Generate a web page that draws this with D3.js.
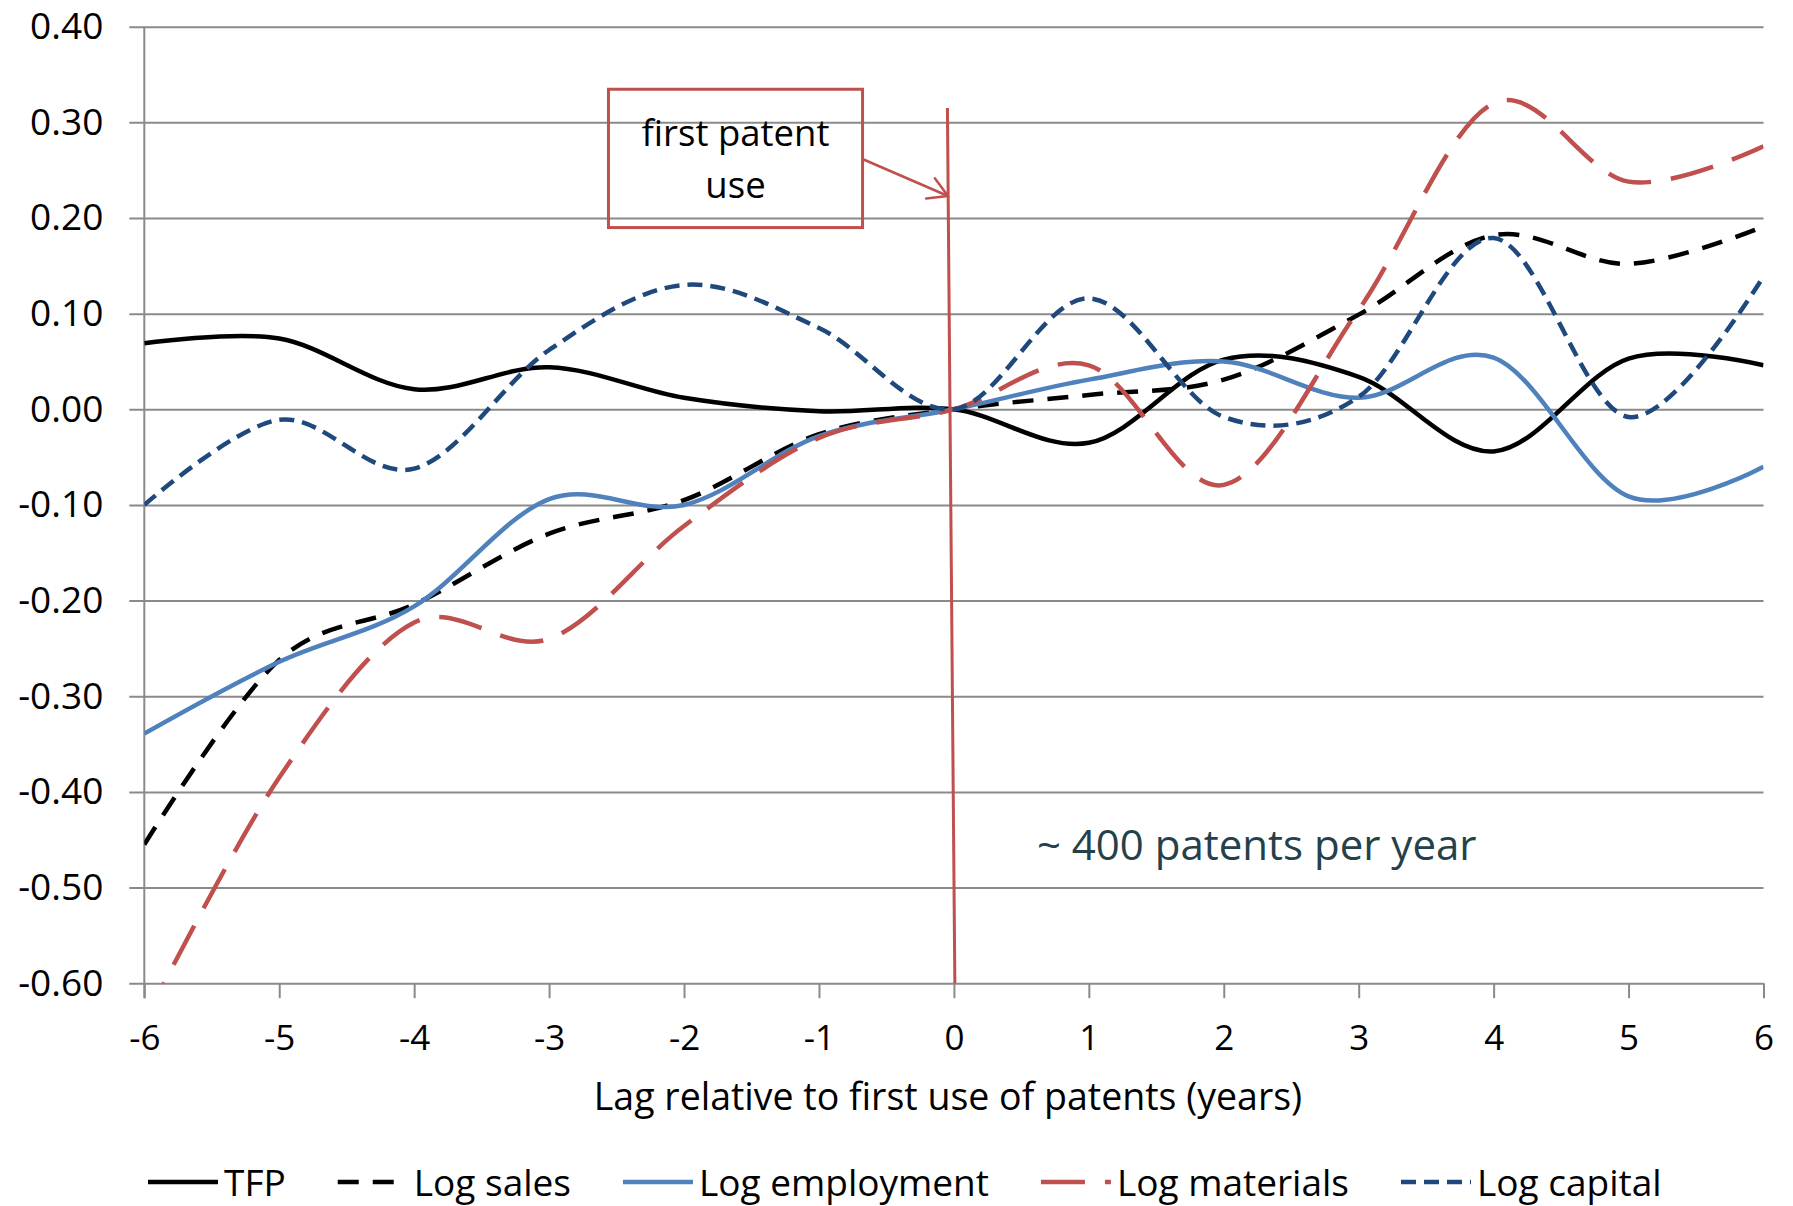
<!DOCTYPE html>
<html>
<head>
<meta charset="utf-8">
<script src="https://cdn.jsdelivr.net/npm/d3@7"></script>
<style>
  html, body { margin: 0; padding: 0; background: #fff; }
  svg text { font-family: 'Open Sans', 'Noto Sans', sans-serif; }
</style>
</head>
<body>
<svg id="chart" width="1793" height="1206"></svg>
<script>
// Event-study style chart: outcomes relative to first use of patents.
// Values (Excel smoothed lines).

var lags = [-6, -5, -4, -3, -2, -1, 0, 1, 2, 3, 4, 5, 6];

var tfp           = [0.069, 0.074, 0.021, 0.044, 0.012, -0.002, 0, -0.035, 0.052, 0.034, -0.044, 0.053, 0.046];
var logSales      = [-0.455, -0.262, -0.204, -0.130, -0.095, -0.026, 0, 0.015, 0.031, 0.099, 0.182, 0.152, 0.191];
var logEmployment = [-0.339, -0.264, -0.206, -0.094, -0.100, -0.028, 0, 0.031, 0.050, 0.012, 0.054, -0.091, -0.060];
var logMaterials  = [-0.640, -0.385, -0.223, -0.240, -0.122, -0.030, 0, 0.046, -0.079, 0.104, 0.320, 0.238, 0.275];
var logCapital    = [-0.100, -0.011, -0.062, 0.062, 0.130, 0.085, 0, 0.116, -0.008, 0.013, 0.179, -0.008, 0.139];

var seriesNames = ['TFP', 'Log sales', 'Log employment', 'Log materials', 'Log capital'];
var yTicks = [0.4, 0.3, 0.2, 0.1, 0, -0.1, -0.2, -0.3, -0.4, -0.5, -0.6];
var xTitle = 'Lag relative to first use of patents (years)';
var boxLines = ['first patent', 'use'];
var noteText = '~ 400 patents per year';

// ---- layout ----
var plot = { left: 144.3, right: 1763.5, top: 26.7, bottom: 983.2 };
var GRID = '#8a8a8a';
var RED = '#C0504D';
var FONT = "'Open Sans', 'Noto Sans', sans-serif";

var x = d3.scaleLinear().domain([-6, 6]).range([plot.left, plot.right]);
var y = d3.scaleLinear().domain([-0.6, 0.4]).range([plot.bottom, plot.top]);

var svg = d3.select('#chart');

// gridlines + y labels
var yAxis = d3.axisLeft(y)
  .tickValues(yTicks)
  .tickSize(-(plot.right - plot.left + 15))
  .tickPadding(26)
  .tickFormat(function (v) { return v.toFixed(2); });

var gy = svg.append('g')
  .attr('transform', 'translate(' + (plot.left - 15) + ',0)')
  .call(yAxis);
gy.select('.domain').remove();
gy.selectAll('.tick line').attr('stroke', GRID).attr('stroke-width', 2);
gy.selectAll('.tick text')
  .attr('font-family', FONT)
  .attr('font-size', 37)
  .attr('fill', '#000');

// vertical axis line
svg.append('line')
  .attr('x1', plot.left).attr('x2', plot.left)
  .attr('y1', plot.top).attr('y2', plot.bottom + 15)
  .attr('stroke', GRID).attr('stroke-width', 2);

// x axis ticks + labels
var xAxis = d3.axisBottom(x)
  .tickValues(lags)
  .tickSize(15)
  .tickFormat(function (v) { return String(v); });

var gx = svg.append('g')
  .attr('transform', 'translate(0,' + plot.bottom + ')')
  .call(xAxis);
gx.select('.domain').remove();
gx.selectAll('.tick line').attr('stroke', GRID).attr('stroke-width', 2);
gx.selectAll('.tick text')
  .attr('font-family', FONT)
  .attr('font-size', 35)
  .attr('fill', '#000')
  .attr('y', 42);

// x axis title
svg.append('text')
  .attr('x', 948).attr('y', 1110)
  .attr('text-anchor', 'middle')
  .attr('font-size', 37.5)
  .attr('fill', '#000')
  .text(xTitle);

// ---- series ----
var seriesValues = [tfp, logSales, logEmployment, logMaterials, logCapital];
var seriesStyle = [
  { color: '#000000', dash: null },
  { color: '#000000', dash: '21,14' },
  { color: '#4F81BD', dash: null },
  { color: RED,       dash: '44,20' },
  { color: '#1F497D', dash: '15,8' }
];

svg.append('clipPath').attr('id', 'plot-clip')
  .append('rect')
  .attr('x', plot.left).attr('y', plot.top)
  .attr('width', plot.right - plot.left)
  .attr('height', plot.bottom - plot.top);

var line = d3.line()
  .x(function (d) { return x(d[0]); })
  .y(function (d) { return y(d[1]); })
  .curve(d3.curveCardinal.tension(0));

var series = seriesNames.map(function (name, i) {
  return {
    name: name,
    color: seriesStyle[i].color,
    dash: seriesStyle[i].dash,
    points: lags.map(function (l, j) { return [l, seriesValues[i][j]]; })
  };
});

svg.append('g').attr('clip-path', 'url(#plot-clip)')
  .selectAll('path')
  .data(series)
  .join('path')
  .attr('d', function (d) { return line(d.points); })
  .attr('fill', 'none')
  .attr('stroke', function (d) { return d.color; })
  .attr('stroke-width', 4.5)
  .attr('stroke-dasharray', function (d) { return d.dash; });

// ---- annotations ----
// red marker line at first patent use (slightly tilted, as drawn in the original)
svg.append('line')
  .attr('x1', x(-0.048)).attr('y1', y(0.315))
  .attr('x2', x(0.007)).attr('y2', y(-0.6))
  .attr('stroke', RED).attr('stroke-width', 3);

// label box
var bx0 = x(-2.56), bx1 = x(-0.677), by0 = y(0.3346), by1 = y(0.190);
svg.append('rect')
  .attr('x', bx0).attr('y', by0)
  .attr('width', bx1 - bx0).attr('height', by1 - by0)
  .attr('fill', 'none')
  .attr('stroke', RED).attr('stroke-width', 3);

svg.selectAll('.box-label')
  .data(boxLines)
  .join('text')
  .attr('class', 'box-label')
  .attr('x', (bx0 + bx1) / 2)
  .attr('y', function (d, i) { return 146 + i * 52; })
  .attr('text-anchor', 'middle')
  .attr('font-size', 36.5)
  .attr('fill', '#000')
  .text(function (d) { return d; });

// arrow from box to the marker line
var ax0 = x(-0.678), ay0 = y(0.2617), ax1 = x(-0.044), ay1 = y(0.223);
svg.append('line')
  .attr('x1', ax0).attr('y1', ay0).attr('x2', ax1).attr('y2', ay1)
  .attr('stroke', RED).attr('stroke-width', 2.5);
var ang = Math.atan2(ay1 - ay0, ax1 - ax0);
var headLen = 22, headSpread = Math.PI / 6;
[-1, 1].forEach(function (s) {
  var a = ang + Math.PI + s * headSpread;
  svg.append('line')
    .attr('x1', ax1).attr('y1', ay1)
    .attr('x2', ax1 + headLen * Math.cos(a)).attr('y2', ay1 + headLen * Math.sin(a))
    .attr('stroke', RED).attr('stroke-width', 2.5)
    .attr('stroke-linecap', 'round');
});

svg.append('text')
  .attr('x', x(0.615)).attr('y', y(-0.471))
  .attr('font-size', 42)
  .attr('fill', '#24414b')
  .text(noteText);

// ---- legend ----
var legend = svg.append('g').attr('transform', 'translate(0,1182)');
var lx = 148;
series.forEach(function (s) {
  legend.append('line')
    .attr('x1', lx).attr('x2', lx + 70)
    .attr('y1', 0).attr('y2', 0)
    .attr('stroke', s.color)
    .attr('stroke-width', 4.5)
    .attr('stroke-dasharray', s.dash);
  var t = legend.append('text')
    .attr('x', lx + 76).attr('y', 14)
    .attr('font-size', 37)
    .attr('fill', '#000')
    .text(s.name);
  var w = t.node().getComputedTextLength();
  lx = lx + 76 + w + 52;
});
</script>
</body>
</html>
